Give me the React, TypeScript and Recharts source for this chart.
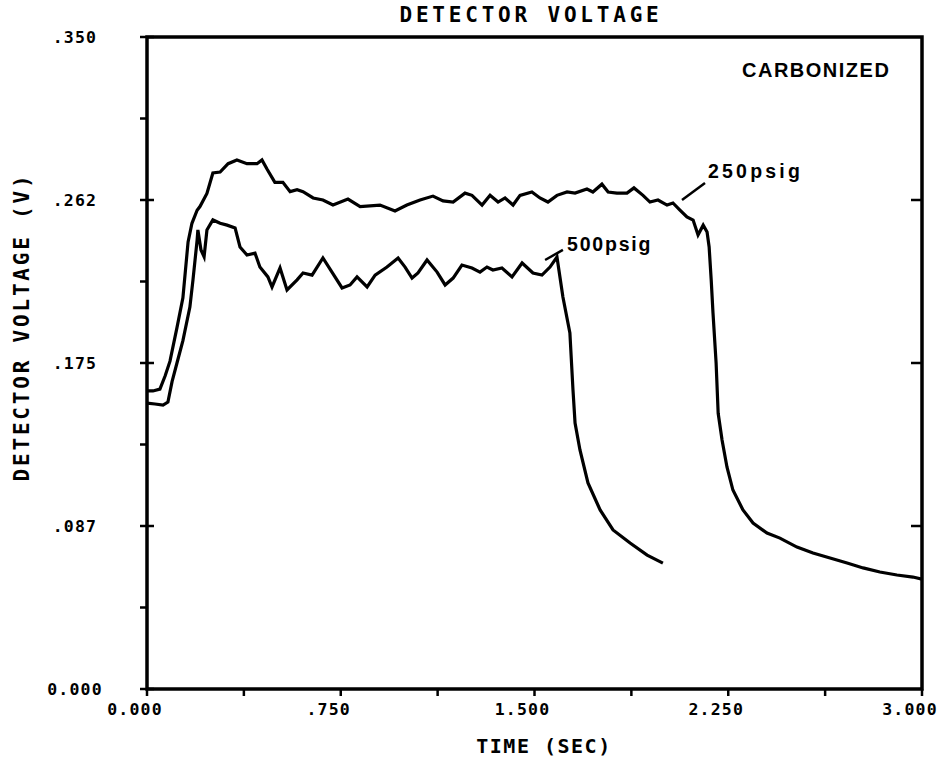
import React from "react";
import { LineChart, Line, XAxis, YAxis, ReferenceArea, ReferenceLine } from "recharts";

// ---- data (time in seconds, detector voltage in volts) ----
const time250 = [0, 0.023, 0.05, 0.07, 0.089, 0.116, 0.139, 0.159, 0.174, 0.194, 0.205, 0.232, 0.255, 0.283, 0.314, 0.348, 0.387, 0.426, 0.445, 0.465, 0.495, 0.526, 0.554, 0.581, 0.604, 0.643, 0.681, 0.72, 0.778, 0.825, 0.902, 0.96, 1.006, 1.057, 1.107, 1.146, 1.185, 1.231, 1.258, 1.297, 1.328, 1.359, 1.386, 1.417, 1.444, 1.49, 1.521, 1.552, 1.587, 1.626, 1.657, 1.703, 1.726, 1.761, 1.785, 1.819, 1.858, 1.885, 1.92, 1.947, 1.978, 2.013, 2.036, 2.063, 2.09, 2.114, 2.133, 2.153, 2.168, 2.176, 2.184, 2.191, 2.203, 2.211, 2.226, 2.245, 2.268, 2.307, 2.346, 2.4, 2.45, 2.516, 2.578, 2.644, 2.71, 2.772, 2.837, 2.903, 2.965, 3.0];
const volt250 = [0.16, 0.16, 0.161, 0.168, 0.176, 0.194, 0.21, 0.24, 0.25, 0.257, 0.259, 0.266, 0.277, 0.2775, 0.282, 0.284, 0.282, 0.282, 0.284, 0.279, 0.272, 0.272, 0.267, 0.268, 0.267, 0.2636, 0.2625, 0.2598, 0.263, 0.259, 0.2598, 0.2566, 0.2598, 0.2625, 0.2646, 0.262, 0.2614, 0.2662, 0.265, 0.2598, 0.265, 0.2614, 0.2636, 0.2598, 0.265, 0.2668, 0.2636, 0.2614, 0.265, 0.2668, 0.2662, 0.2684, 0.2668, 0.271, 0.2668, 0.2662, 0.2662, 0.269, 0.265, 0.2614, 0.2625, 0.2598, 0.2609, 0.2571, 0.2534, 0.2517, 0.2437, 0.249, 0.2453, 0.2373, 0.2196, 0.2018, 0.175, 0.148, 0.1337, 0.1192, 0.1068, 0.0961, 0.0891, 0.0837, 0.081, 0.0762, 0.073, 0.0703, 0.0676, 0.065, 0.0628, 0.0612, 0.0601, 0.059];

const time500 = [0, 0.031, 0.062, 0.081, 0.097, 0.116, 0.139, 0.166, 0.178, 0.194, 0.197, 0.209, 0.221, 0.232, 0.255, 0.283, 0.31, 0.341, 0.36, 0.387, 0.418, 0.437, 0.468, 0.484, 0.515, 0.542, 0.581, 0.604, 0.639, 0.681, 0.716, 0.755, 0.786, 0.813, 0.852, 0.883, 0.929, 0.972, 0.999, 1.026, 1.049, 1.084, 1.123, 1.154, 1.185, 1.219, 1.258, 1.289, 1.316, 1.339, 1.374, 1.413, 1.452, 1.494, 1.529, 1.56, 1.587, 1.61, 1.637, 1.649, 1.657, 1.676, 1.707, 1.754, 1.804, 1.87, 1.936, 1.997];
const volt500 = [0.1535, 0.153, 0.1524, 0.154, 0.165, 0.175, 0.187, 0.205, 0.2196, 0.241, 0.2464, 0.2357, 0.232, 0.2464, 0.2518, 0.25, 0.249, 0.2475, 0.2373, 0.233, 0.234, 0.2265, 0.2212, 0.2158, 0.226, 0.2142, 0.2196, 0.2233, 0.2222, 0.2314, 0.2238, 0.2153, 0.2169, 0.2212, 0.2158, 0.2222, 0.2265, 0.2314, 0.2265, 0.2206, 0.2233, 0.2303, 0.2238, 0.2169, 0.2206, 0.2276, 0.226, 0.2238, 0.2265, 0.2249, 0.226, 0.2212, 0.2287, 0.2233, 0.2222, 0.2265, 0.2319, 0.2104, 0.1911, 0.1605, 0.1428, 0.1283, 0.1106, 0.0961, 0.0854, 0.0784, 0.0719, 0.0676];

const xTicks = [0, 0.375, 0.75, 1.125, 1.5, 1.875, 2.25, 2.625, 3.0];
const xTickLabels = ["0.000", "", ".750", "", "1.500", "", "2.250", "", "3.000"];
const yTicks = [0, 0.04375, 0.0875, 0.13125, 0.175, 0.21875, 0.2625, 0.30625, 0.35];
const yTickLabels = ["0.000", "", ".087", "", ".175", "", ".262", "", ".350"];

const seriesNames = ["250psig", "500psig"];
const titleText = "DETECTOR VOLTAGE";
const xAxisTitle = "TIME (SEC)";
const yAxisTitle = "DETECTOR VOLTAGE (V)";
const conditionText = "CARBONIZED";

// leader lines from labels to curves: [x1, y1, x2, y2] in data units
const leader250 = [2.071, 0.2625, 2.16, 0.2716];
const leader500 = [1.541, 0.2303, 1.61, 0.2357];

const data250 = time250.map((t, i) => ({ t, v: volt250[i] }));
const data500 = time500.map((t, i) => ({ t, v: volt500[i] }));

const INK = "#000";
const tickFont = {
  fontFamily: "DejaVu Sans Mono",
  fontWeight: 700,
  fontSize: 16.5,
  letterSpacing: 1.2,
  fill: INK,
};

const LeftTick = (props: any) => {
  const { x, y, index } = props;
  const label = yTickLabels[index] ?? "";
  const major = label !== "";
  return (
    <g>
      <line x1={x - 7} x2={major ? x + 7 : x} y1={y} y2={y} stroke={INK} strokeWidth={2.5} />
      {major && (
        <text x={x - 72} y={y} textAnchor="middle" dominantBaseline="central" style={tickFont}>
          {label}
        </text>
      )}
    </g>
  );
};

const RightTick = (props: any) => {
  const { x, y, index } = props;
  const major = (yTickLabels[index] ?? "") !== "";
  if (!major || index === 0 || index === yTicks.length - 1) return <g />;
  return <line x1={x - 11} x2={x} y1={y} y2={y} stroke={INK} strokeWidth={2.5} />;
};

const BottomTick = (props: any) => {
  const { x, y, index } = props;
  const label = xTickLabels[index] ?? "";
  return (
    <g>
      <line x1={x} x2={x} y1={y} y2={y + 7} stroke={INK} strokeWidth={2.5} />
      {label !== "" && (
        <text x={x - 12} y={y + 20} textAnchor="middle" dominantBaseline="central" style={tickFont}>
          {label}
        </text>
      )}
    </g>
  );
};

export default function App() {
  return (
    <div style={{ position: "absolute", left: 0, top: 0, width: 941, height: 762, background: "#fff" }}>
      <LineChart
        width={941}
        height={762}
        margin={{ top: 37, right: 0, bottom: 0, left: 0 }}
        style={{ position: "absolute", left: 0, top: 0 }}
      >
        <XAxis
          dataKey="t"
          type="number"
          domain={[0, 3]}
          ticks={xTicks}
          interval={0}
          height={73}
          tickSize={0}
          tickMargin={0}
          tickLine={false}
          axisLine={false}
          tick={<BottomTick />}
          allowDataOverflow
        />
        <YAxis
          yAxisId="left"
          type="number"
          domain={[0, 0.35]}
          ticks={yTicks}
          interval={0}
          width={147}
          tickSize={0}
          tickMargin={0}
          tickLine={false}
          axisLine={false}
          tick={<LeftTick />}
          allowDataOverflow
        />
        <YAxis
          yAxisId="right"
          orientation="right"
          type="number"
          domain={[0, 0.35]}
          ticks={yTicks}
          interval={0}
          width={19}
          tickSize={0}
          tickMargin={0}
          tickLine={false}
          axisLine={false}
          tick={<RightTick />}
          allowDataOverflow
        />
        <ReferenceArea
          yAxisId="left"
          x1={0}
          x2={3}
          y1={0}
          y2={0.35}
          fill="none"
          fillOpacity={0}
          stroke={INK}
          strokeWidth={3.5}
          ifOverflow="visible"
        />
        <ReferenceLine
          yAxisId="left"
          segment={[
            { x: leader250[0], y: leader250[1] },
            { x: leader250[2], y: leader250[3] },
          ]}
          stroke={INK}
          strokeWidth={2.5}
        />
        <ReferenceLine
          yAxisId="left"
          segment={[
            { x: leader500[0], y: leader500[1] },
            { x: leader500[2], y: leader500[3] },
          ]}
          stroke={INK}
          strokeWidth={2.5}
        />
        <Line
          yAxisId="left"
          data={data250}
          dataKey="v"
          name={seriesNames[0]}
          type="linear"
          stroke={INK}
          strokeWidth={3.2}
          dot={false}
          activeDot={false}
          isAnimationActive={false}
        />
        <Line
          yAxisId="left"
          data={data500}
          dataKey="v"
          name={seriesNames[1]}
          type="linear"
          stroke={INK}
          strokeWidth={3.2}
          dot={false}
          activeDot={false}
          isAnimationActive={false}
        />
      </LineChart>
      <svg
        width={941}
        height={762}
        style={{ position: "absolute", left: 0, top: 0, pointerEvents: "none" }}
      >
        <text
          x={531}
          y={15}
          textAnchor="middle"
          dominantBaseline="central"
          style={{ fontFamily: "DejaVu Sans Mono", fontWeight: 700, fontSize: 21, letterSpacing: 3.8, fill: INK }}
        >
          {titleText}
        </text>
        <text
          x={544}
          y={746}
          textAnchor="middle"
          dominantBaseline="central"
          style={{ fontFamily: "DejaVu Sans Mono", fontWeight: 700, fontSize: 20, letterSpacing: 1.5, fill: INK }}
        >
          {xAxisTitle}
        </text>
        <text
          x={22}
          y={327}
          textAnchor="middle"
          dominantBaseline="central"
          transform="rotate(-90 22 327)"
          style={{ fontFamily: "DejaVu Sans Mono", fontWeight: 700, fontSize: 21, letterSpacing: 2.8, fill: INK }}
        >
          {yAxisTitle}
        </text>
        <text
          x={742}
          y={70}
          textAnchor="start"
          dominantBaseline="central"
          style={{ fontFamily: "Liberation Sans", fontWeight: 700, fontSize: 20, letterSpacing: 1.5, fill: INK }}
        >
          {conditionText}
        </text>
        <text
          x={708}
          y={171}
          textAnchor="start"
          dominantBaseline="central"
          style={{ fontFamily: "Liberation Sans", fontWeight: 700, fontSize: 19.5, letterSpacing: 3.2, fill: INK }}
        >
          {seriesNames[0]}
        </text>
        <text
          x={567}
          y={244}
          textAnchor="start"
          dominantBaseline="central"
          style={{ fontFamily: "Liberation Sans", fontWeight: 700, fontSize: 19.5, letterSpacing: 1.8, fill: INK }}
        >
          {seriesNames[1]}
        </text>
      </svg>
    </div>
  );
}
